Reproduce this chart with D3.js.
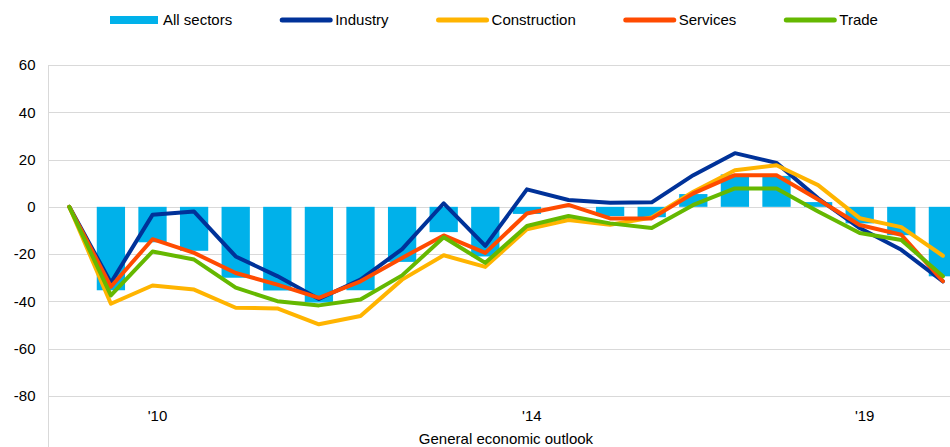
<!DOCTYPE html>
<html>
<head>
<meta charset="utf-8">
<script src="https://cdn.jsdelivr.net/npm/d3@7"></script>
<style>
  html, body { margin: 0; padding: 0; background: #fff; }
  svg { display: block; font-family: "Liberation Sans", Arial, sans-serif; }
</style>
</head>
<body>
<svg id="chart" width="950" height="447"></svg>
<script>
// ---- data ----
const periods = d3.range(22);
const tickLabels = ["", "", "'10", "", "", "", "", "", "", "", "", "'14", "", "", "", "", "", "", "", "'19", "", ""];
const allSectors   = [0, -35.3, -15, -18.6, -30, -35.4, -40.5, -35.3, -23.3, -10.7, -21, -3, 0, -3.9, -4.4, 5.4, 13.7, 13.1, 2, -7, -12, -29.4];
const industry     = [0, -32.1, -3.4, -2, -21, -29.3, -39, -30.8, -17.9, 1.5, -16.5, 7.4, 2.9, 1.7, 1.9, 13.4, 22.7, 18.6, 3.6, -9, -18.2, -31.5];
const construction = [0, -41, -33.3, -35, -42.7, -43, -49.7, -46.2, -30.8, -20.5, -25.4, -9.5, -5.6, -7.6, -4.5, 6.4, 15.5, 17.6, 9.2, -4.8, -8.6, -20.7];
const services     = [0, -33.8, -13.7, -19.5, -28, -32.9, -38.5, -31.5, -21.6, -12.1, -19.5, -2.8, 0.8, -4.9, -4.9, 5.7, 13.4, 13.4, 3.1, -7.7, -11.8, -31.5];
const trade        = [0, -37.5, -18.9, -22.3, -34.2, -39.9, -41.7, -39.2, -29, -12.9, -23.7, -8.1, -3.9, -7, -9, 0.8, 7.8, 7.8, -2, -11.1, -14, -29.4];
const yTicks = [-80, -60, -40, -20, 0, 20, 40, 60];
const xTitle = "General economic outlook";

const lineSeries = [
  { name: "Industry", values: industry, color: "#003299" },
  { name: "Construction", values: construction, color: "#FFB400" },
  { name: "Services", values: services, color: "#FF4B00" },
  { name: "Trade", values: trade, color: "#65B800" }
];
const barColor = "#00B1EA";

// ---- layout ----
const svg = d3.select("#chart");
const plotLeft = 48.5, plotRight = 963.7, plotTop = 65, plotBottom = 443.2;

const x = d3.scaleBand().domain(periods).range([plotLeft, plotRight]).paddingInner(0.32).paddingOuter(0.16);
const xc = i => x(i) + x.bandwidth() / 2;
const y = d3.scaleLinear().domain([-100, 60]).range([plotBottom, plotTop]);

// gridlines
svg.append("g").selectAll("line").data(yTicks).join("line")
  .attr("x1", plotLeft).attr("x2", 950)
  .attr("y1", d => Math.round(y(d)) + 0.5).attr("y2", d => Math.round(y(d)) + 0.5)
  .attr("stroke", "#d9d9d9").attr("stroke-width", 1);

// y axis
const yAxis = d3.axisLeft(y).tickValues(yTicks).tickSize(0).tickPadding(13).tickFormat(d => String(d));
const gy = svg.append("g").attr("transform", `translate(${plotLeft},0)`).call(yAxis);
gy.select(".domain").remove();
gy.selectAll("text").attr("font-size", 15).attr("fill", "#000").attr("font-family", "Liberation Sans, Arial, sans-serif");
svg.append("line").attr("x1", plotLeft).attr("x2", plotLeft).attr("y1", plotTop).attr("y2", 447)
  .attr("stroke", "#d9d9d9").attr("stroke-width", 1);

// bars
svg.append("g").selectAll("rect").data(allSectors.map((v, i) => ({ v, i }))).join("rect")
  .attr("x", d => x(d.i)).attr("width", x.bandwidth())
  .attr("y", d => y(Math.max(0, d.v))).attr("height", d => Math.abs(y(d.v) - y(0)))
  .attr("fill", barColor);

// lines
const line = d3.line().x((d, i) => xc(i)).y(d => y(d));
svg.append("g").selectAll("path").data(lineSeries).join("path")
  .attr("d", d => line(d.values)).attr("fill", "none")
  .attr("stroke", d => d.color).attr("stroke-width", 4)
  .attr("stroke-linejoin", "round").attr("stroke-linecap", "round");

// x axis labels
const xAxis = d3.axisBottom(x).tickSize(0).tickFormat(i => tickLabels[i]);
const gx = svg.append("g").attr("transform", `translate(5,${y(-80) + 11})`).call(xAxis);
gx.select(".domain").remove();
gx.selectAll("text").attr("font-size", 15).attr("fill", "#000").attr("font-family", "Liberation Sans, Arial, sans-serif");

svg.append("text").attr("x", 506).attr("y", 444).attr("text-anchor", "middle")
  .attr("font-size", 15).attr("fill", "#000").text(xTitle);

// legend
const legendItems = [{ name: "All sectors", color: barColor, bar: true }].concat(lineSeries);
let lx = 110;
const lg = svg.append("g");
legendItems.forEach(it => {
  if (it.bar) {
    lg.append("rect").attr("x", lx).attr("y", 16).attr("width", 48).attr("height", 8).attr("fill", it.color);
    lx += 48 + 5;
  } else {
    lg.append("line").attr("x1", lx + 2).attr("x2", lx + 50).attr("y1", 20).attr("y2", 20)
      .attr("stroke", it.color).attr("stroke-width", 5).attr("stroke-linecap", "round");
    lx += 52 + 3;
  }
  const t = lg.append("text").attr("x", lx).attr("y", 25).attr("font-size", 15).attr("fill", "#000").text(it.name);
  lx += t.node().getComputedTextLength() + 48;
});
</script>
</body>
</html>
